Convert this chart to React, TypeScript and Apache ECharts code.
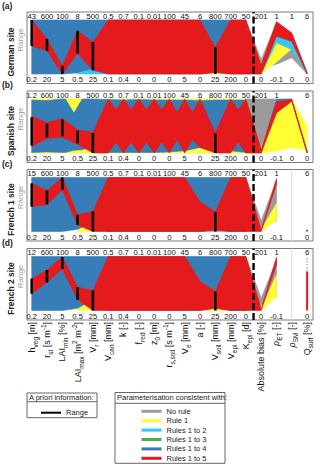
import React, { useEffect, useRef } from 'react';
import * as echarts from 'echarts';

type Pt = [number, number, number];
type Band = Pt[];

// ---------- labels ----------
const AXIS_NAMES = [
  'h{s|veg} [m]', 'r{s|st} [s m{p|-1}]', 'LAI{s|min} [%]', 'LAI{s|max} [m{p|2} m{p|-2}]', 'V{s|r} [mm]',
  'V{s|can} [mm]', 'k [-]', 'f{s|red} [-]', 'z{s|0} [m]', 'r{s|s,soil} [s m{p|-1}]', 'V{s|e} [mm]', 'a [-]',
  'V{s|soil} [mm]', 'V{s|epi} [mm]', 'K{s|epi} [d]', 'Absolute bias [%]', '{i|ρ}{s|ET} [-]', '{i|ρ}{s|SM} [-]', 'Q{s|surf} [%]'
];
const AXIS_IDX = [0, 1, 2, 3, 4, 5, 6, 7, 8, 9, 10, 11, 12, 13, 14, 15, 16, 17, 18];

const DE_TOP = ['43', '600', '100', '8', '500', '0.5', '0.7', '0.1', '0.01', '100', '45', '6', '800', '700', '50', '201', '1', '1', '6'];
const DE_BOTTOM = ['0.2', '20', '5', '0.5', '25', '0.1', '0.4', '0', '0', '0', '5', '0', '25', '200', '0', '0', '-0.1', '0', '0'];
const ES_TOP = ['1.2', '600', '100', '8', '500', '0.5', '0.7', '0.1', '0.01', '100', '45', '6', '800', '700', '50', '201', '1', '', '6'];
const ES_BOTTOM = ['0.2', '20', '5', '0.5', '25', '0.1', '0.4', '0', '0', '0', '5', '0', '25', '200', '0', '0', '-0.1', '0', '0'];
const FR1_TOP = ['15', '600', '100', '8', '500', '0.5', '0.7', '0.1', '0.01', '100', '45', '6', '800', '700', '50', '201', '1', '', '6'];
const FR1_BOTTOM = ['0.2', '20', '5', '0.5', '25', '0.1', '0.4', '0', '0', '0', '5', '0', '25', '200', '0', '0', '-0.1', '', '0'];
const FR2_TOP = ['12', '600', '100', '8', '500', '0.5', '0.7', '0.1', '0.01', '100', '45', '6', '800', '700', '50', '201', '1', '', '6'];
const FR2_BOTTOM = ['0.2', '20', '5', '0.5', '25', '0.1', '0.4', '0', '0', '0', '5', '0', '25', '200', '0', '0', '-0.1', '', '0'];

const SITE_NAMES = ['German site', 'Spanish site', 'French 1 site', 'French 2 site'];
const PANEL_LETTERS = ['(a)', '(b)', '(c)', '(d)'];
const LEGEND_NAMES = ['No rule', 'Rule 1', 'Rules 1 to 2', 'Rules 1 to 3', 'Rules 1 to 4', 'Rules 1 to 5'];

// ---------- envelopes (normalised axis position, [axis, low, high]) ----------
const DE_GREY: Band[] = [[[14, 0, 1], [15, 0.1, 0.27], [16, 0.18, 0.95], [17, 0.3, 0.75], [18, 0, 0.05]]];
const DE_YELLOW: Band[] = [
  [[11, 0, 0], [12, 0, 0.05], [13, 0, 0]],
  [[14, 0, 0.3], [15, 0, 0.04], [16, 0.22, 0.6], [17, 0.47, 0.55], [18, 0, 0.02]]
];
const DE_CYAN: Band[] = [
  [[3, 0, 0], [4, 0, 0.1], [5, 0, 0]],
  [[14, 0, 0.2], [15, 0, 0.02], [16, 0.58, 0.68], [17, 0.45, 0.65], [18, 0, 0.03]]
];
const DE_BLUE: Band[] = [[
  [0, 0, 1], [1, 0, 1], [2, 0, 1], [3, 0.02, 1], [4, 0.1, 1], [5, 0, 1], [6, 0, 1], [7, 0, 1], [8, 0, 1],
  [9, 0, 1], [10, 0, 1], [11, 0, 1], [12, 0.03, 1], [13, 0, 1], [14, 0, 1]
]];
const DE_RED: Band[] = [[
  [0, 0.52, 1], [1, 0.43, 0.65], [2, 0, 0.15], [3, 0.38, 0.8], [4, 0.07, 0.59], [5, 0, 1], [6, 0, 1], [7, 0, 1],
  [8, 0, 1], [9, 0, 1], [10, 0, 1], [11, 0, 1], [12, 0.03, 0.49], [13, 0, 1], [14, 0, 1], [15, 0, 0.16],
  [16, 0.7, 0.97], [17, 0.6, 0.76], [18, 0, 0.02]
]];
const DE_RANGE: Pt[] = [[0, 0.52, 1], [1, 0.43, 0.65], [2, 0, 0.15], [3, 0.38, 0.8], [4, 0.07, 0.59], [12, 0, 0.49]];

const ES_GREY: Band[] = [[[14, 0, 1], [15, 0.1, 1], [16, 0.95, 1], [17, 0.98, 1], [18, 0, 0.05]]];
const ES_YELLOW: Band[] = [
  [[0, 0, 1], [1, 0, 1], [2, 0, 1], [3, 0, 1], [4, 0, 1], [5, 0, 1], [6, 0, 1], [7, 0, 1], [8, 0, 1], [9, 0, 1],
   [10, 0, 1], [11, 0, 1], [12, 0, 1], [13, 0, 1], [14, 0, 1]],
  [[14, 0, 0.5], [15, 0, 0.08], [16, 0.03, 0.85], [17, 0.1, 1], [18, 0.04, 0.5]]
];
const ES_CYAN: Band[] = [];
const ES_BLUE: Band[] = [[
  [0, 0.01, 0.98], [1, 0.02, 0.97], [2, 0.01, 1], [2.2, 0.01, 1], [2.76, 0.05, 0.74], [3.3, 0.06, 1], [4, 0.12, 1],
  [5, 0.01, 0.99], [6, 0.01, 0.98], [7, 0.01, 0.99], [8, 0.01, 0.98], [9, 0.02, 0.98], [10, 0.04, 0.98],
  [11, 0.1, 0.97], [12, 0.1, 0.98], [13, 0.04, 0.98], [14, 0.01, 0.98], [15, 0, 0.04], [16, 0.9, 0.99],
  [17, 0.97, 1], [18, 0, 0.03]
]];
const ES_RED: Band[] = [[
  [0, 0.12, 0.68], [1, 0.27, 0.56], [2, 0.29, 0.64], [3, 0.16, 0.43], [4, 0, 0.38], [5, 0, 1], [5.5, 0.2, 0.8],
  [6, 0, 1], [6.5, 0.2, 0.8], [7, 0, 1], [7.5, 0.2, 0.8], [8, 0, 1], [8.5, 0.2, 0.8], [9, 0, 1], [9.5, 0.25, 0.75],
  [10, 0, 1], [10.5, 0.25, 0.75], [11, 0.1, 1], [12, 0, 0.37], [13, 0, 1], [13.5, 0.2, 0.8], [14, 0, 1],
  [15, 0, 0.06], [16, 0.74, 0.95], [17, 0.96, 0.99], [18, 0, 0.03]
]];
const ES_RANGE: Pt[] = [[0, 0.14, 0.66], [1, 0.29, 0.54], [2, 0.31, 0.62], [3, 0.18, 0.41], [4, 0, 0.37], [12, 0, 0.36]];

const FR1_GREY: Band[] = [
  [[11, 0, 0], [12, 0, 0.04], [13, 0, 0]],
  [[14, 0, 1], [15, 0.05, 0.2], [16, 0.2, 0.95]]
];
const FR1_YELLOW: Band[] = [
  [[3, 0, 0.05], [3.6, 0, 0.12], [4, 0, 0.08], [5, 0, 0]],
  [[14, 0, 0.3], [15, 0, 0.03], [16, 0.21, 0.52]]
];
const FR1_CYAN: Band[] = [];
const FR1_BLUE: Band[] = [[
  [0, 0, 1], [1, 0, 1], [2, 0, 1], [3, 0.04, 1], [3.6, 0.12, 1], [4, 0.08, 1], [5, 0, 1], [6, 0, 1], [7, 0, 1],
  [8, 0, 1], [9, 0, 1], [10, 0, 1], [11, 0, 1], [12, 0.04, 1], [13, 0, 1], [14, 0, 1]
]];
const FR1_RED: Band[] = [[
  [0, 0.46, 0.89], [1, 0.5, 0.76], [2, 0.77, 1], [3, 0.12, 0.31], [4, 0, 0.37], [5, 0, 1], [6, 0, 1], [7, 0, 1],
  [8, 0, 1], [9, 0, 1], [10, 0, 1], [11, 0, 0.55], [12, 0.03, 0.36], [13, 0, 1], [14, 0, 1], [15, 0, 0.03],
  [16, 0.88, 0.98]
]];
const FR1_RANGE: Pt[] = [[0, 0.46, 0.89], [1, 0.5, 0.76], [2, 0.77, 1], [3, 0.12, 0.31], [4, 0, 0.37], [12, 0, 0.36]];
const FR1_QSURF_RED: Pt[] = [[18, 0, 0.03]];
const FR1_QSURF_GREY: Pt[] = [];

const FR2_GREY: Band[] = [[[14, 0, 1], [15, 0.1, 0.23], [16, 0.25, 0.93]]];
const FR2_YELLOW: Band[] = [
  [[3, 0, 0.04], [3.7, 0, 0.15], [4, 0, 0.1], [5, 0, 0]],
  [[11, 0, 0], [12, 0, 0.05], [13, 0, 0]],
  [[14, 0, 0.3], [15, 0, 0.03], [16, 0.26, 0.66]]
];
const FR2_CYAN: Band[] = [];
const FR2_BLUE: Band[] = [[
  [0, 0, 1], [1, 0, 1], [2, 0, 1], [3, 0.04, 1], [3.7, 0.15, 1], [4, 0.1, 1], [5, 0, 1], [6, 0, 1], [7, 0, 1],
  [8, 0, 1], [9, 0, 1], [10, 0, 1], [11, 0, 1], [12, 0.05, 1], [13, 0, 1], [14, 0, 1]
]];
const FR2_RED: Band[] = [[
  [0, 0.31, 0.59], [1, 0.52, 0.75], [2, 0.77, 0.99], [3, 0.2, 0.43], [4, 0, 0.37], [5, 0, 1], [6, 0, 1], [7, 0, 1],
  [8, 0, 1], [9, 0, 1], [10, 0, 1], [11, 0, 0.54], [12, 0.04, 0.35], [13, 0, 1], [14, 0, 1], [15, 0, 0.03],
  [16, 0.85, 0.99]
]];
const FR2_RANGE: Pt[] = [[0, 0.31, 0.59], [1, 0.52, 0.75], [2, 0.77, 0.99], [3, 0.2, 0.43], [4, 0, 0.37], [12, 0, 0.35]];
const FR2_QSURF_RED: Pt[] = [[18, 0, 0.72]];
const FR2_QSURF_GREY: Pt[] = [[18, 0.72, 0.97]];

// ---------- styling ----------
const FONT = "'Liberation Sans', Arial, sans-serif";
const C_GREY = '#9b9b9b';
const C_YELLOW = '#ffff33';
const C_CYAN = '#33c7f2';
const C_GREEN = '#4daf4a';
const C_BLUE = '#377eb8';
const C_RED = '#e41a1c';
const XMIN = -0.307;
const XMAX = 18.386;
const YMIN = -0.176;
const YMAX = 1.148;
const AREA_TOPS = [20, 99, 177.5, 256.5];

const PANELS = [
  { top: DE_TOP, bottom: DE_BOTTOM, grey: DE_GREY, yellow: DE_YELLOW, cyan: DE_CYAN, blue: DE_BLUE, red: DE_RED, range: DE_RANGE, qRed: [] as Pt[], qGrey: [] as Pt[], faint: [] as number[] },
  { top: ES_TOP, bottom: ES_BOTTOM, grey: ES_GREY, yellow: ES_YELLOW, cyan: ES_CYAN, blue: ES_BLUE, red: ES_RED, range: ES_RANGE, qRed: [] as Pt[], qGrey: [] as Pt[], faint: [] as number[] },
  { top: FR1_TOP, bottom: FR1_BOTTOM, grey: FR1_GREY, yellow: FR1_YELLOW, cyan: FR1_CYAN, blue: FR1_BLUE, red: FR1_RED, range: FR1_RANGE, qRed: FR1_QSURF_RED, qGrey: FR1_QSURF_GREY, faint: [17] },
  { top: FR2_TOP, bottom: FR2_BOTTOM, grey: FR2_GREY, yellow: FR2_YELLOW, cyan: FR2_CYAN, blue: FR2_BLUE, red: FR2_RED, range: FR2_RANGE, qRed: FR2_QSURF_RED, qGrey: FR2_QSURF_GREY, faint: [17] }
];

function bandSeries(name: string, color: string, bands: Band[], p: number): any[] {
  return bands.map((band) => ({
    type: 'custom',
    name,
    xAxisIndex: 2 * p + 1,
    yAxisIndex: p,
    silent: true,
    itemStyle: { color },
    data: band,
    renderItem: (params: any, api: any) => {
      if (params.dataIndex !== 0) return null;
      const upper = band.map((d) => api.coord([d[0], d[2]]));
      const lower = band.map((d) => api.coord([d[0], d[1]])).reverse();
      return {
        type: 'polygon',
        shape: { points: upper.concat(lower) },
        style: { fill: color, stroke: color, lineWidth: 0.6 }
      };
    }
  }));
}

function segSeries(name: string, color: string, data: Pt[], p: number, width: number, dash?: number[]): any {
  return {
    type: 'custom',
    name,
    xAxisIndex: 2 * p + 1,
    yAxisIndex: p,
    silent: true,
    itemStyle: { color },
    data,
    renderItem: (params: any, api: any) => {
      const a = api.coord([api.value(0), api.value(1)]);
      const b = api.coord([api.value(0), api.value(2)]);
      return {
        type: 'line',
        shape: { x1: a[0], y1: a[1], x2: b[0], y2: b[1] },
        style: { stroke: color, lineWidth: width, lineDash: dash || null }
      };
    }
  };
}

function buildOption(): any {
  const grid: any[] = [];
  const xAxis: any[] = [];
  const yAxis: any[] = [];
  const series: any[] = [];
  const graphic: any[] = [];

  PANELS.forEach((panel, p) => {
    const t = AREA_TOPS[p];
    grid.push({ left: 27, width: 286, top: t - 8, height: 71.5, show: true, borderColor: '#7a7a7a', borderWidth: 1 });
    const base = {
      type: 'value', gridIndex: p, min: XMIN, max: XMAX,
      axisLine: { show: false }, axisTick: { show: false }, splitLine: { show: false }
    };
    xAxis.push({
      ...base, position: 'top',
      axisLabel: {
        inside: true, margin: 0, customValues: AXIS_IDX, fontSize: 7.6, color: '#111', fontFamily: FONT,
        formatter: (v: number) => panel.top[Math.round(v)] ?? ''
      }
    });
    xAxis.push({
      ...base, position: 'bottom',
      axisLabel: {
        inside: true, margin: 0, customValues: AXIS_IDX, fontSize: 7.6, color: '#111', fontFamily: FONT,
        formatter: (v: number) => panel.bottom[Math.round(v)] ?? ''
      }
    });
    yAxis.push({ type: 'value', gridIndex: p, min: YMIN, max: YMAX, show: false });

    // faint unused axes
    panel.faint.forEach((fx) => {
      series.push({
        type: 'line', name: 'axis', xAxisIndex: 2 * p + 1, yAxisIndex: p, silent: true, showSymbol: false,
        data: [[fx, YMIN], [fx, YMAX]], lineStyle: { color: '#dcdcdc', width: 1 }
      });
    });

    series.push(...bandSeries('No rule', C_GREY, panel.grey, p));
    series.push(...bandSeries('Rule 1', C_YELLOW, panel.yellow, p));
    series.push(...bandSeries('Rules 1 to 2', C_CYAN, panel.cyan, p));
    series.push(...bandSeries('Rules 1 to 4', C_BLUE, panel.blue, p));
    series.push(...bandSeries('Rules 1 to 5', C_RED, panel.red, p));
    if (panel.qGrey.length) series.push(segSeries('No rule', C_GREY, panel.qGrey, p, 1.2, [1.5, 1.5]));
    if (panel.qRed.length) series.push(segSeries('Rules 1 to 5', C_RED, panel.qRed, p, 2));
    series.push(segSeries('Range', '#000', panel.range, p, 2.6));

    // dashed separator
    series.push({
      type: 'line', name: 'separator', xAxisIndex: 2 * p + 1, yAxisIndex: p, silent: true, showSymbol: false,
      data: [[14.5, YMIN], [14.5, YMAX]], lineStyle: { color: '#000', width: 2.4, type: [7, 3] }
    });

    graphic.push({
      type: 'text', x: 2, y: t - 14,
      style: { text: PANEL_LETTERS[p], fontSize: 8.5, fontWeight: 'bold', fontFamily: FONT, fill: '#222', verticalAlign: 'middle' }
    });
    graphic.push({
      type: 'text', x: 11, y: t + 32, rotation: Math.PI / 2,
      style: { text: SITE_NAMES[p], fontSize: 8.5, fontWeight: 'bold', fontFamily: FONT, fill: '#222', align: 'center', verticalAlign: 'middle' }
    });
    graphic.push({
      type: 'text', x: 20, y: t + 20, rotation: Math.PI / 2,
      style: { text: 'Range', fontSize: 8, fontFamily: FONT, fill: '#a0a0a0', align: 'center', verticalAlign: 'middle' }
    });
  });

  // green series exists only for the legend
  series.push({
    type: 'custom', name: 'Rules 1 to 3', xAxisIndex: 1, yAxisIndex: 0, silent: true,
    itemStyle: { color: C_GREEN }, data: [], renderItem: () => null
  });

  // parameter names under the last panel
  xAxis.push({
    type: 'value', gridIndex: 3, position: 'bottom', min: XMIN, max: XMAX,
    axisLine: { show: false }, axisTick: { show: false }, splitLine: { show: false },
    axisLabel: {
      customValues: AXIS_IDX, rotate: 90, margin: 2, fontSize: 9, lineHeight: 14, color: '#111', fontFamily: FONT,
      formatter: (v: number) => AXIS_NAMES[Math.round(v)] ?? '',
      rich: {
        s: { fontSize: 6.5, lineHeight: 7, verticalAlign: 'bottom', fontFamily: FONT, color: '#111' },
        p: { fontSize: 6.5, lineHeight: 7, verticalAlign: 'top', fontFamily: FONT, color: '#111' },
        i: { fontSize: 9, lineHeight: 14, fontStyle: 'italic', fontFamily: FONT, color: '#111' }
      }
    }
  });

  // legend frames
  graphic.push(
    { type: 'rect', shape: { x: 27, y: 393, width: 70, height: 24.7 }, style: { fill: 'none', stroke: '#666', lineWidth: 1 } },
    { type: 'line', shape: { x1: 27, y1: 401.7, x2: 97, y2: 401.7 }, style: { stroke: '#666', lineWidth: 1 } },
    { type: 'text', x: 29, y: 397.6, style: { text: 'A priori information:', fontSize: 7.5, fontFamily: FONT, fill: '#222', verticalAlign: 'middle' } },
    { type: 'rect', shape: { x: 115, y: 392.5, width: 110, height: 70.8 }, style: { fill: 'none', stroke: '#666', lineWidth: 1 } },
    { type: 'line', shape: { x1: 115, y1: 403.3, x2: 225, y2: 403.3 }, style: { stroke: '#666', lineWidth: 1 } },
    { type: 'text', x: 117, y: 397.8, style: { text: 'Parameterisation consistent with:', fontSize: 7.5, fontFamily: FONT, fill: '#222', verticalAlign: 'middle' } }
  );

  const legendText = { fontSize: 7.5, lineHeight: 9, color: '#222', fontFamily: FONT };
  return {
    animation: false,
    backgroundColor: '#fff',
    grid, xAxis, yAxis, series, graphic,
    legend: [
      { data: ['Range'], left: 41, top: 408.2, padding: 0, itemWidth: 20, itemHeight: 2, icon: 'rect', selectedMode: false, textStyle: legendText },
      { data: LEGEND_NAMES, orient: 'vertical', left: 141.5, top: 406.8, padding: 0, itemWidth: 20, itemHeight: 3, itemGap: 0.4, icon: 'rect', selectedMode: false, textStyle: legendText }
    ]
  };
}

export default function App() {
  const ref = useRef<HTMLDivElement>(null);
  useEffect(() => {
    if (!ref.current) return;
    const chart = echarts.init(ref.current, null, { renderer: 'svg' });
    chart.setOption(buildOption());
    return () => chart.dispose();
  }, []);
  return <div ref={ref} style={{ position: 'absolute', left: 0, top: 0, width: 320, height: 468 }} />;
}
